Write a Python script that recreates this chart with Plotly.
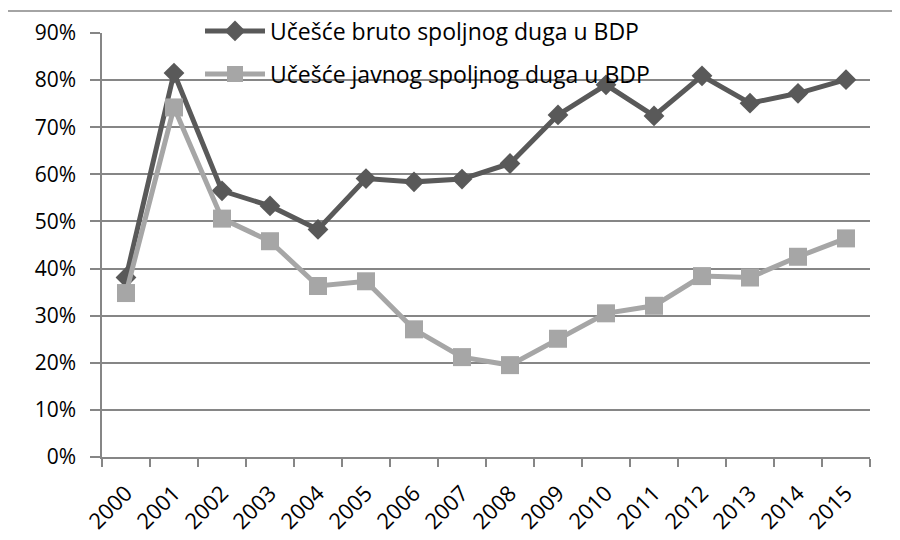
import plotly.graph_objects as go

years = [str(y) for y in range(2000, 2016)]
bruto = [38.1, 81.5, 56.5, 53.3, 48.3, 59.1, 58.4, 59.0, 62.3, 72.6, 79.0, 72.4, 80.9, 75.1, 77.2, 80.1]
javni = [34.8, 74.2, 50.6, 45.8, 36.3, 37.3, 27.1, 21.2, 19.5, 25.1, 30.5, 32.1, 38.4, 38.1, 42.5, 46.4]
yticks = [0, 10, 20, 30, 40, 50, 60, 70, 80, 90]
name1 = "Učešće bruto spoljnog duga u BDP"
name2 = "Učešće javnog spoljnog duga u BDP"

FONT = "'Open Sans', Lato, 'Liberation Sans', sans-serif"
OFF = 8  # default page body margin
W, H = 900 - OFF, 540 - OFF
# plot area in page pixels: x 102..870, y 33..457
L, T = 102 - OFF, 33 - OFF
pw, ph = 870 - 102, 457 - 33
R, B = W - L - pw, H - T - ph

def px_x(x):
    return (x - OFF - L) / pw

def px_y(y):
    return (T + ph - (y - OFF)) / ph

fig = go.Figure()
fig.add_trace(go.Scatter(
    x=years, y=bruto, name=name1, mode="lines+markers",
    line=dict(color="#595959", width=5),
    marker=dict(symbol="diamond", size=16, color="#595959"),
    legend="legend",
))
fig.add_trace(go.Scatter(
    x=years, y=javni, name=name2, mode="lines+markers",
    line=dict(color="#A6A6A6", width=5),
    marker=dict(symbol="square", size=18, color="#A6A6A6"),
    legend="legend2",
))

fig.update_layout(
    width=W, height=H,
    margin=dict(l=L, r=R, t=T, b=B, autoexpand=False),
    paper_bgcolor="white", plot_bgcolor="white",
    font=dict(family=FONT, size=21, color="black"),
    showlegend=True,
    legend=dict(x=px_x(200), y=px_y(31), xanchor="left", yanchor="middle",
                bgcolor="rgba(0,0,0,0)", font=dict(size=23, color="black"),
                itemwidth=60),
    legend2=dict(x=px_x(200), y=px_y(74), xanchor="left", yanchor="middle",
                 bgcolor="rgba(0,0,0,0)", font=dict(size=23, color="black"),
                 itemwidth=60),
    xaxis=dict(
        type="category", tickson="boundaries", ticks="outside", ticklen=8,
        tickcolor="#868686", tickwidth=1.5,
        showline=True, linecolor="#868686", linewidth=1.5,
        showgrid=False, tickangle=-45, tickfont=dict(size=22),
        range=[-0.5, 15.5], automargin=False, ticklabelstandoff=13,
    ),
    yaxis=dict(
        range=[0, 90], tickvals=yticks, ticktext=[f"{v}%" for v in yticks],
        ticks="outside", ticklen=10, tickcolor="#868686", tickwidth=1.5,
        showline=True, linecolor="#868686", linewidth=1.5,
        showgrid=True, gridcolor="#868686", gridwidth=1.5,
        zeroline=False, tickfont=dict(size=21), automargin=False,
        ticklabelstandoff=10,
    ),
    shapes=[dict(type="rect", xref="paper", yref="paper",
                 x0=px_x(7), x1=px_x(1000), y0=px_y(700), y1=px_y(11),
                 line=dict(color="#868686", width=1.5), layer="below")],
)

fig.write_html("out.html")
